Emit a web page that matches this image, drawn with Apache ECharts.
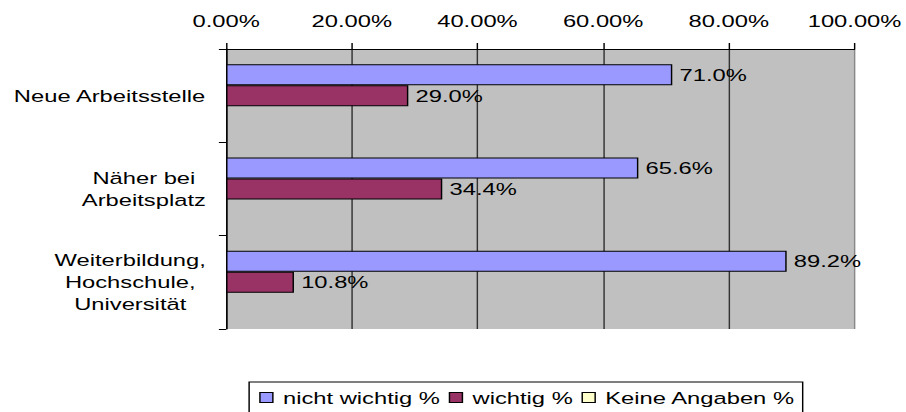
<!DOCTYPE html>
<html>
<head>
<meta charset="utf-8">
<script src="https://cdn.jsdelivr.net/npm/echarts@6/dist/echarts.min.js"></script>
<style>
html,body{margin:0;padding:0;background:#fff;overflow:hidden;width:906px;height:412px;}
#wrap{width:906px;height:412px;overflow:hidden;}
#chart{width:629px;height:412px;transform:scaleX(1.44);transform-origin:0 0;}
</style>
</head>
<body>
<div id="wrap"><div id="chart"></div></div>
<script>
var categories = ['Neue Arbeitsstelle', 'Näher bei\nArbeitsplatz', 'Weiterbildung,\nHochschule,\nUniversität'];
var seriesNames = ['nicht wichtig %', 'wichtig %', 'Keine Angaben %'];
var nichtWichtig = [71.0, 65.6, 89.2];
var wichtig = [29.0, 34.4, 10.8];
var keineAngaben = [0, 0, 0];
var xTicks = [0, 20, 40, 60, 80, 100];

var FONT = 'Liberation Sans, Arial, sans-serif';
var FS = 16.5;
var chart = echarts.init(document.getElementById('chart'), null, {renderer: 'svg'});

function barSeries(name, data, color, showLabel, border) {
  return {
    name: name,
    type: 'bar',
    data: data,
    barWidth: 21,
    barGap: '0%',
    itemStyle: {color: color, borderColor: '#000', borderWidth: border},
    label: {
      show: showLabel,
      position: 'right',
      distance: 5,
      color: '#000',
      fontSize: FS,
      fontFamily: FONT,
      formatter: function (p) { return p.value.toFixed(1) + '%'; }
    },
    emphasis: {disabled: true},
    animation: false
  };
}

chart.setOption({
  animation: false,
  textStyle: {fontFamily: FONT},
  grid: {
    left: 157, right: 34, top: 49, bottom: 83,
    show: true, backgroundColor: '#C0C0C0', borderWidth: 0,
    containLabel: false
  },
  legend: {
    data: seriesNames.map(function (n) {
      return {name: n, itemStyle: {borderColor: '#000', borderWidth: 1}};
    }),
    left: 173, top: 382,
    orient: 'horizontal',
    icon: 'rect',
    itemWidth: 9, itemHeight: 10,
    itemGap: 6,
    padding: [7, 5, 12, 7],
    borderColor: '#000', borderWidth: 1,
    backgroundColor: '#fff',
    selectedMode: false,
    textStyle: {fontSize: FS, color: '#000', fontFamily: FONT, padding: [0, 0, 0, 2]}
  },
  xAxis: {
    type: 'value',
    position: 'top',
    min: xTicks[0], max: xTicks[xTicks.length - 1], interval: 20,
    axisLine: {show: true, lineStyle: {color: '#000', width: 1}},
    axisTick: {show: true, length: 6, lineStyle: {color: '#000'}},
    axisLabel: {
      margin: 20,
      fontSize: FS, color: '#000', fontFamily: FONT,
      formatter: function (v) { return v.toFixed(2) + '%'; }
    },
    splitLine: {show: true, lineStyle: {color: ['#333', '#333', '#333', '#333', '#333', '#888'], width: 1}}
  },
  yAxis: {
    type: 'category',
    inverse: true,
    data: categories,
    axisLine: {show: true, lineStyle: {color: '#000', width: 1}},
    axisTick: {show: true, length: 5, lineStyle: {color: '#000'}},
    axisLabel: {
      margin: 14,
      fontSize: FS, color: '#000', fontFamily: FONT,
      lineHeight: 22,
      formatter: function (v) {
        return v.split('\n').map(function (l) { return '{c|' + l + '}'; }).join('\n');
      },
      rich: {c: {align: 'center', fontSize: FS, lineHeight: 22, color: '#000', fontFamily: FONT}}
    },
    splitLine: {show: false}
  },
  series: [
    barSeries(seriesNames[0], nichtWichtig, '#9999FF', true, 1),
    barSeries(seriesNames[1], wichtig, '#993366', true, 1),
    barSeries(seriesNames[2], keineAngaben, '#FFFFCC', false, 0)
  ]
});
</script>
</body>
</html>
